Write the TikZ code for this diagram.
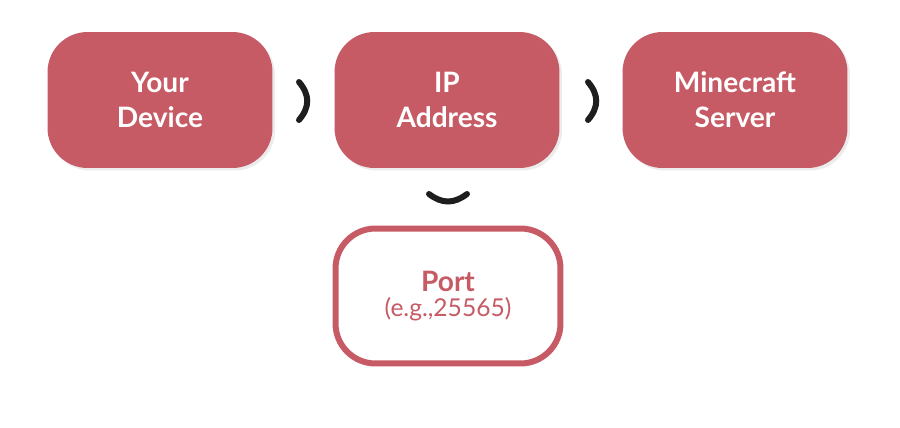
\documentclass[tikz,border=0pt]{standalone}
\usepackage{fontspec}
\setmainfont{Lato}
\usetikzlibrary{shadows}
\definecolor{rose}{HTML}{C75B65}
\definecolor{ink}{HTML}{1E1E1E}
\begin{document}
\begin{tikzpicture}[x=0.02cm,y=-0.02cm]
  \tikzset{
    box/.style={rounded corners=0.8cm, minimum width=4.5cm, minimum height=2.72cm,
      align=center, font=\fontsize{16}{20}\selectfont\bfseries, text=white,
      fill=rose, drop shadow={shadow xshift=0.05cm, shadow yshift=-0.05cm, opacity=0.15}},
    portbox/.style={rounded corners=0.8cm, minimum width=4.5cm, minimum height=2.7cm,
      align=center, text=rose, fill=white, draw=rose, line width=0.12cm},
    link/.style={ink, line width=0.12cm, line cap=round}
  }
  \useasboundingbox (0,0) rectangle (900,427);

  \node[box] (device) at (160,100) {Your\\Device};
  \node[box] (ip)     at (447,100) {IP\\Address};
  \node[box] (server) at (735,100) {Minecraft\\Server};
  \node[portbox] (port) at (448,296)
    {{\fontsize{16}{20}\selectfont\bfseries Port}\\[2pt]{\fontsize{14}{18}\selectfont (e.g.,25565)}};

  % chevrons between the boxes
  \coordinate (a1) at (299,82);  \coordinate (a2) at (299,120);
  \coordinate (b1) at (588,82);  \coordinate (b2) at (588,120);
  \coordinate (c1) at (429,194); \coordinate (c2) at (467,194);
  \draw[link] (a1) .. controls (310,95) and (310,107) .. (a2);
  \draw[link] (b1) .. controls (599,95) and (599,107) .. (b2);
  \draw[link] (c1) .. controls (442,204) and (454,204) .. (c2);
\end{tikzpicture}
\end{document}
